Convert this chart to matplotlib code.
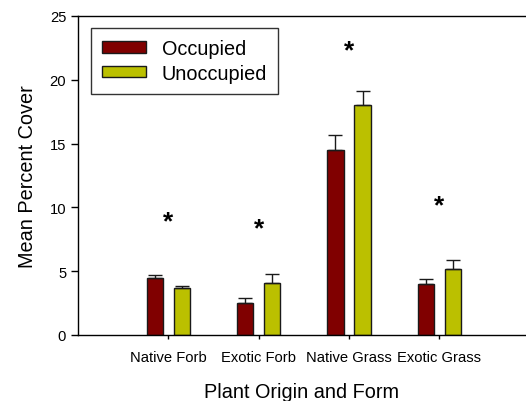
import matplotlib
matplotlib.use("Agg")
import matplotlib.pyplot as plt
import numpy as np

plt.rcParams['font.family'] = ['Liberation Sans', 'DejaVu Sans']

categories = ["Native Forb", "Exotic Forb", "Native Grass", "Exotic Grass"]
occupied = [4.5, 2.5, 14.5, 4.0]
occupied_err = [0.18, 0.38, 1.15, 0.4]
unoccupied = [3.7, 4.1, 18.0, 5.2]
unoccupied_err = [0.16, 0.7, 1.1, 0.7]
asterisk_y = [8.9, 8.4, 22.3, 10.2]
yticks = [0, 5, 10, 15, 20, 25]

fig = plt.figure(figsize=(5.26, 4.02), dpi=100)
ax = fig.add_axes([78/526, 66/402, 448/526, 319/402])

x = np.arange(len(categories))
w = 0.18
off = 0.15
ax.bar(x - off, occupied, w, color="#800000", edgecolor="#1a1a1a", linewidth=1.0,
       yerr=[np.zeros(4), occupied_err], error_kw=dict(ecolor="#1a1a1a", elinewidth=1.0, capsize=5, capthick=1.0),
       label="Occupied", zorder=2)
ax.bar(x + off, unoccupied, w, color="#BBC000", edgecolor="#1a1a1a", linewidth=1.0,
       yerr=[np.zeros(4), unoccupied_err], error_kw=dict(ecolor="#1a1a1a", elinewidth=1.0, capsize=5, capthick=1.0),
       label="Unoccupied", zorder=2)

for i, yy in enumerate(asterisk_y):
    ax.text(x[i], yy, "*", ha="center", va="center", fontsize=19, fontweight="bold", color="black")

ax.set_xlim(-1.0, 3.96)
ax.set_ylim(0, 25)
ax.set_yticks(yticks)
ax.set_xticks(x)
ax.set_xticklabels(categories, fontsize=10.6)
ax.tick_params(axis='y', labelsize=10.6, direction='out', length=5, width=1)
ax.tick_params(axis='x', direction='out', length=3, width=1, pad=7.5)
ax.spines['right'].set_visible(False)
for s in ['left', 'bottom', 'top']:
    ax.spines[s].set_linewidth(1.0)
    ax.spines[s].set_color("black")

ax.set_ylabel("Mean Percent Cover", fontsize=14.3, labelpad=9)
ax.set_xlabel("Plant Origin and Form", fontsize=14.3, labelpad=13)

leg = ax.legend(loc="upper left", bbox_to_anchor=(13/448, 1 - 12/319), fontsize=14.3,
                frameon=True, fancybox=False, edgecolor="black", handlelength=2.2,
                handleheight=0.5, borderpad=0.55, labelspacing=0.3, handletextpad=0.8,
                borderaxespad=0)
leg.get_frame().set_linewidth(1.0)

fig.savefig("out.png", dpi=100)
